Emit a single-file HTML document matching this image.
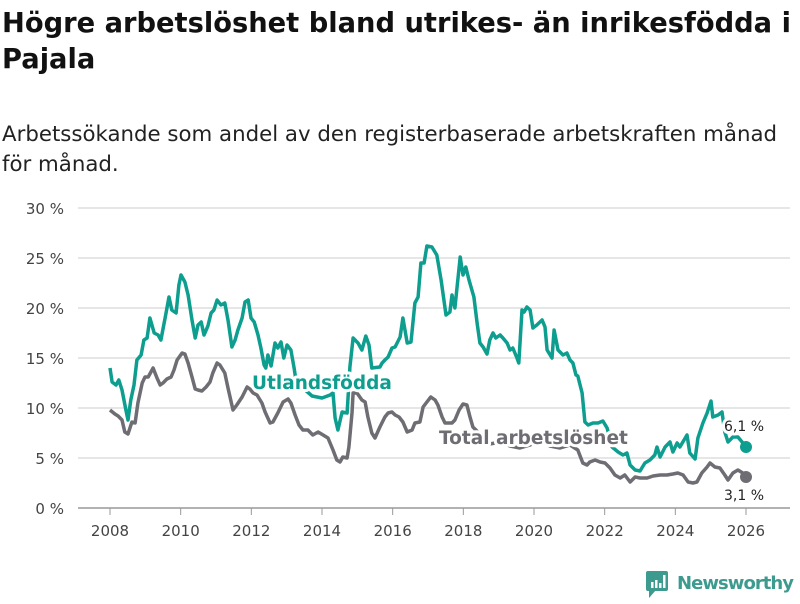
<!DOCTYPE html>
<html><head><meta charset="utf-8"><style>
body{margin:0;background:#fff;width:800px;height:600px;overflow:hidden;font-family:"DejaVu Sans","Liberation Sans",sans-serif}
</style></head><body>
<svg width="800" height="600">
<text x="2" y="32" font-size="27.3" font-weight="bold" fill="#111">Högre arbetslöshet bland utrikes- än inrikesfödda i</text>
<text x="2" y="68" font-size="27.3" font-weight="bold" fill="#111">Pajala</text>
<text x="2" y="141" font-size="21.3" fill="#222">Arbetssökande som andel av den registerbaserade arbetskraften månad</text>
<text x="2" y="171" font-size="21.3" fill="#222">för månad.</text>
<g id="grid"></g><g id="xaxis"></g><g id="lines"></g>
<g>
<rect x="646" y="571" width="22" height="20" rx="2" fill="#3d9a8f"/>
<path d="M649 590 L649 598 L656 590 Z" fill="#3d9a8f"/>
<rect x="651" y="582" width="2.5" height="6" fill="#fff"/><rect x="655" y="580" width="2.5" height="8" fill="#fff"/><rect x="659" y="583" width="2.5" height="5" fill="#fff"/><rect x="663" y="575" width="2.5" height="13" fill="#fff"/>
<text x="677" y="589" font-size="18" font-weight="bold" fill="#3d9a8f" textLength="117">Newsworthy</text>
</g>
</svg>
<script>
const tealDates=[2008.00,2008.06,2008.17,2008.25,2008.34,2008.45,2008.51,2008.59,2008.68,2008.76,2008.88,2008.96,2009.05,2009.13,2009.25,2009.36,2009.44,2009.56,2009.67,2009.75,2009.87,2009.95,2010.01,2010.12,2010.21,2010.32,2010.41,2010.49,2010.58,2010.66,2010.77,2010.86,2010.94,2011.03,2011.14,2011.25,2011.34,2011.45,2011.54,2011.62,2011.74,2011.82,2011.91,2011.99,2012.08,2012.19,2012.27,2012.36,2012.41,2012.47,2012.56,2012.67,2012.75,2012.84,2012.92,2013.01,2013.12,2013.21,2013.26,2013.46,2013.72,2014.00,2014.23,2014.31,2014.37,2014.45,2014.57,2014.71,2014.79,2014.88,2015.02,2015.13,2015.24,2015.33,2015.41,2015.64,2015.70,2015.78,2015.87,2015.98,2016.07,2016.21,2016.29,2016.41,2016.52,2016.63,2016.72,2016.80,2016.89,2016.97,2017.11,2017.25,2017.37,2017.51,2017.62,2017.68,2017.76,2017.91,2017.99,2018.07,2018.16,2018.30,2018.39,2018.47,2018.56,2018.67,2018.75,2018.84,2018.92,2019.04,2019.12,2019.24,2019.32,2019.40,2019.52,2019.57,2019.66,2019.72,2019.80,2019.89,2019.97,2020.08,2020.23,2020.31,2020.37,2020.51,2020.57,2020.68,2020.82,2020.93,2021.02,2021.10,2021.19,2021.24,2021.36,2021.44,2021.53,2021.67,2021.81,2021.95,2022.07,2022.21,2022.38,2022.52,2022.63,2022.72,2022.86,2023.00,2023.14,2023.28,2023.42,2023.48,2023.57,2023.71,2023.85,2023.93,2024.05,2024.13,2024.33,2024.41,2024.56,2024.64,2024.78,2024.90,2025.01,2025.06,2025.21,2025.32,2025.40,2025.49,2025.63,2025.77,2025.89,2026.00];
const tealValues=[14.0,12.6,12.3,12.8,11.8,9.8,8.8,10.8,12.3,14.8,15.3,16.8,17.0,19.0,17.5,17.3,16.8,19.0,21.1,19.8,19.5,22.3,23.3,22.6,21.3,18.8,17.0,18.3,18.6,17.3,18.2,19.5,19.8,20.8,20.3,20.5,18.8,16.1,16.8,17.8,19.0,20.6,20.8,19.0,18.6,17.3,16.0,14.3,14.0,15.3,14.2,16.5,16.0,16.6,15.0,16.3,15.8,14.0,12.8,12.0,11.2,11.0,11.3,11.5,9.0,7.8,9.6,9.5,14.1,17.0,16.5,15.8,17.2,16.3,14.0,14.1,14.5,14.8,15.1,16.0,16.1,17.1,19.0,16.5,16.6,20.5,21.1,24.5,24.5,26.2,26.1,25.3,22.8,19.3,19.6,21.3,20.0,25.1,23.3,24.1,22.8,21.1,18.5,16.5,16.1,15.4,16.8,17.5,17.0,17.3,17.0,16.5,15.8,16.0,15.0,14.5,19.8,19.6,20.1,19.8,18.0,18.3,18.8,18.1,15.8,15.0,17.8,15.8,15.3,15.5,14.8,14.5,13.3,13.2,11.5,8.6,8.3,8.5,8.5,8.7,8.0,6.1,5.6,5.3,5.5,4.3,3.8,3.7,4.5,4.8,5.3,6.1,5.1,6.1,6.6,5.6,6.5,6.1,7.3,5.5,4.9,7.0,8.5,9.5,10.7,9.1,9.3,9.6,7.6,6.6,7.1,7.1,6.6,6.1];
const grayDates=[2008.00,2008.14,2008.23,2008.34,2008.42,2008.51,2008.62,2008.71,2008.79,2008.91,2008.99,2009.08,2009.22,2009.33,2009.42,2009.50,2009.61,2009.73,2009.81,2009.90,2010.04,2010.12,2010.21,2010.32,2010.41,2010.49,2010.60,2010.72,2010.83,2010.91,2011.03,2011.11,2011.25,2011.34,2011.48,2011.59,2011.74,2011.88,2011.96,2012.05,2012.16,2012.30,2012.39,2012.53,2012.61,2012.75,2012.90,2013.04,2013.12,2013.24,2013.35,2013.46,2013.60,2013.74,2013.89,2014.03,2014.17,2014.31,2014.42,2014.51,2014.59,2014.71,2014.76,2014.85,2014.88,2014.99,2015.13,2015.22,2015.30,2015.41,2015.50,2015.64,2015.78,2015.87,2015.98,2016.07,2016.18,2016.29,2016.41,2016.55,2016.63,2016.77,2016.86,2016.97,2017.08,2017.20,2017.28,2017.40,2017.48,2017.68,2017.76,2017.88,2017.99,2018.10,2018.19,2018.27,2018.47,2018.75,2019.04,2019.32,2019.60,2019.89,2020.17,2020.45,2020.74,2021.02,2021.24,2021.38,2021.50,2021.58,2021.73,2021.87,2022.01,2022.15,2022.29,2022.44,2022.57,2022.72,2022.86,2023.00,2023.20,2023.37,2023.57,2023.76,2023.93,2024.07,2024.22,2024.36,2024.50,2024.61,2024.75,2024.90,2024.98,2025.12,2025.26,2025.40,2025.49,2025.63,2025.77,2025.91,2026.00];
const grayValues=[9.8,9.4,9.2,8.8,7.6,7.4,8.6,8.5,10.5,12.5,13.1,13.1,14.0,13.0,12.3,12.5,12.9,13.1,13.8,14.8,15.5,15.4,14.5,13.1,11.9,11.8,11.7,12.1,12.6,13.5,14.5,14.3,13.5,12.0,9.8,10.3,11.1,12.1,11.9,11.5,11.3,10.5,9.6,8.5,8.6,9.5,10.6,10.9,10.5,9.3,8.3,7.8,7.8,7.3,7.6,7.3,7.0,5.8,4.8,4.6,5.1,5.0,6.1,9.5,11.5,11.5,10.8,10.6,9.1,7.5,7.0,8.1,9.1,9.5,9.6,9.3,9.1,8.6,7.6,7.8,8.5,8.6,10.1,10.6,11.1,10.8,10.3,9.1,8.5,8.5,8.8,9.8,10.4,10.3,9.1,8.1,7.4,6.4,6.6,6.2,6.0,6.3,6.8,6.2,6.0,6.3,5.8,4.5,4.3,4.6,4.8,4.6,4.5,4.0,3.3,3.0,3.3,2.6,3.1,3.0,3.0,3.2,3.3,3.3,3.4,3.5,3.3,2.6,2.5,2.6,3.5,4.1,4.5,4.1,4.0,3.3,2.8,3.5,3.8,3.5,3.1];
const yTicks=[0,5,10,15,20,25,30];
const xTicks=[2008,2010,2012,2014,2016,2018,2020,2022,2024,2026];
const NS="http://www.w3.org/2000/svg";
function X(yr){return 110+(yr-2008)*(746-110)/18;}
function Y(v){return 508-v*10;}
function mk(t,a,p){const e=document.createElementNS(NS,t);for(const k in a)e.setAttribute(k,a[k]);p.appendChild(e);return e;}
const grid=document.getElementById('grid'),xa=document.getElementById('xaxis'),lines=document.getElementById('lines');
yTicks.forEach(v=>{
  const l=mk('line',{x1:78,x2:790,y1:Y(v),y2:Y(v),stroke:v===0?'#999':'#ddd','stroke-width':1.5},grid);
  
  
  const t=mk('text',{x:64,y:Y(v)+6,'text-anchor':'end','font-size':15,fill:'#444'},grid);
  t.textContent=v+' %';
  
  
});
xTicks.forEach(yr=>{
  mk('line',{x1:X(yr),x2:X(yr),y1:508,y2:515,stroke:'#999','stroke-width':1},xa);
  const t=mk('text',{x:X(yr),y:536,'text-anchor':'middle','font-size':15,fill:'#444'},xa);
  t.textContent=yr;
  
  
});
function path(d,v){return d.map((yr,i)=>(i?'L':'M')+X(yr).toFixed(1)+' '+Y(v[i]).toFixed(1)).join(' ');}
const gp=mk('path',{d:path(grayDates,grayValues),fill:'none',stroke:'#6e6d73','stroke-width':3.5,'stroke-linejoin':'round'},lines);


const tp=mk('path',{d:path(tealDates,tealValues),fill:'none',stroke:'#0d9e8f','stroke-width':3.5,'stroke-linejoin':'round'},lines);


const gl=grayDates.length-1,tl=tealDates.length-1;
const gd=mk('circle',{cx:X(grayDates[gl]),cy:Y(grayValues[gl]),r:6,fill:'#6e6d73'},lines);


const td=mk('circle',{cx:X(tealDates[tl]),cy:Y(tealValues[tl]),r:6,fill:'#0d9e8f'},lines);


function lab(txt,x,y,fs,fw,fill,name){
  const t=mk('text',{x:x,y:y,'font-size':fs,'font-weight':fw,fill:fill,stroke:'#fff','stroke-width':6,'paint-order':'stroke','stroke-linejoin':'round'},lines);
  t.textContent=txt;
  
  
}
lab('Utlandsfödda',252,389,18.5,'bold','#0d9e8f','utlandsfodda-label');
lab('Total arbetslöshet',439,444,18.5,'bold','#6e6d73','total-label');
lab(tealValues[tl].toFixed(1).replace('.',',')+' %',724,431,14,'normal','#222','utlandsfodda-value-label');
lab(grayValues[gl].toFixed(1).replace('.',',')+' %',724,500,14,'normal','#222','total-value-label');
</script>
</body></html>
